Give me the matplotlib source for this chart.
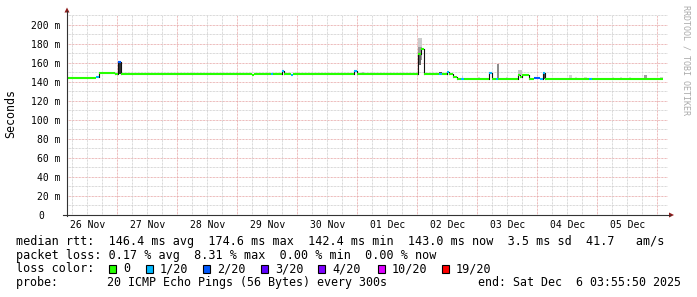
import datetime as dt
import matplotlib
matplotlib.use('Agg')
import matplotlib.pyplot as plt
import matplotlib.dates as mdates
import matplotlib.transforms as mtransforms
from matplotlib.patches import Rectangle, Polygon

MONO = 'DejaVu Sans Mono'

# graph window: 10 days, ending Sat Dec 6 03:55:50 2025
t_end = dt.datetime(2025, 12, 6, 3, 55, 50)
t_start = t_end - dt.timedelta(days=10)

# median rtt as steps: start (hours after t_start), value (ms), lost pings of 20
seg_hours = [0.0, 11.7, 12.6, 19.3, 20.4, 21.7, 74.0, 74.8, 81.6, 82.4,
             85.8, 86.8, 89.6, 90.4, 114.6, 115.8, 140.4, 141.6, 142.6, 148.8,
             150.0, 151.8, 152.8, 154.4, 155.8, 156.6, 157.6, 158.6, 168.6, 169.8,
             171.6, 172.4, 180.4, 181.2, 182.0, 184.8, 186.6, 189.0, 190.2, 191.2,
             208.8, 209.8]
seg_ms = [143.5, 144.5, 149.0, 147.8, 161.0, 147.6, 146.8, 147.6, 147.6, 147.6,
          151.0, 147.6, 147.0, 147.6, 151.0, 147.6, 168.6, 174.6, 147.6, 147.6,
          147.6, 150.4, 147.6, 144.8, 142.4, 143.3, 143.0, 143.3, 149.6, 143.3,
          143.3, 143.3, 146.6, 144.6, 146.6, 143.3, 143.6, 143.3, 149.6, 143.3,
          143.3, 143.3]
seg_loss = [0, 1, 0, 0, 2, 0, 0, 0, 1, 0,
            1, 0, 1, 0, 1, 0, 0, 0, 0, 1,
            0, 1, 0, 0, 0, 0, 1, 0, 1, 0,
            1, 0, 0, 0, 0, 0, 2, 1, 1, 0,
            1, 0]
last_hour = 238.4

# smoke (spread of the 20 pings)
smoke_hours = [20.4, 92.4, 118.0, 140.5, 140.5, 140.5, 148.8, 157.9, 164.4, 172.0,
               175.6, 180.4, 190.4, 200.8, 203.2, 206.8, 217.9, 221.2, 224.8, 230.9,
               237.2]
smoke_len = [1.3, 0.6, 0.8, 1.6, 1.6, 1.0, 1.1, 0.6, 0.6, 0.9,
             0.6, 1.6, 0.8, 1.0, 0.6, 1.2, 0.8, 0.8, 0.8, 1.0,
             1.0]
smoke_lo = [147.6, 147.6, 147.6, 170.0, 163.0, 158.0, 147.6, 143.3, 143.3, 143.3,
            143.3, 146.6, 143.3, 143.3, 143.3, 143.3, 143.3, 143.3, 143.3, 143.3,
            143.3]
smoke_hi = [160.0, 148.8, 149.8, 185.5, 176.0, 168.0, 150.5, 145.6, 144.8, 158.7,
            144.6, 151.8, 149.6, 147.5, 144.6, 145.0, 144.5, 144.5, 144.5, 147.0,
            145.0]
smoke_density = [0.8, 0.2, 0.25, 0.2, 0.4, 0.6, 0.7, 0.2, 0.15, 0.45,
                 0.15, 0.22, 0.7, 0.18, 0.12, 0.15, 0.12, 0.12, 0.12, 0.38,
                 0.18]

day_labels = ['26 Nov', '27 Nov', '28 Nov', '29 Nov', '30 Nov',
              '01 Dec', '02 Dec', '03 Dec', '04 Dec', '05 Dec']
y_ticks = [0, 20, 40, 60, 80, 100, 120, 140, 160, 180, 200]
y_labels = ['0', '20 m', '40 m', '60 m', '80 m', '100 m', '120 m',
            '140 m', '160 m', '180 m', '200 m']

rtt_avg, rtt_max, rtt_min, rtt_now, rtt_sd, rtt_ams = 146.4, 174.6, 142.4, 143.0, 3.5, 41.7
loss_avg, loss_max, loss_min, loss_now = 0.17, 8.31, 0.00, 0.00

loss_steps = [0, 1, 2, 3, 4, 10, 19]
loss_labels = ['0', '1/20', '2/20', '3/20', '4/20', '10/20', '19/20']
loss_colors = ['#26ff00', '#00b8ff', '#0059ff', '#5e00ff', '#7e00ff', '#dd00ff', '#ff0000']


def loss_color(n):
    c = loss_colors[0]
    for step, col in zip(loss_steps, loss_colors):
        if n >= step:
            c = col
    return c


def tnum(h):
    return mdates.date2num(t_start) + h / 24.0


fig = plt.figure(figsize=(6.97, 2.97), dpi=100, facecolor='white')
ax = fig.add_axes([67 / 697, 82 / 297, 600 / 697, 200 / 297])
ax.set_xlim(tnum(0), tnum(240))
ax.set_ylim(0, 210)
for s in ax.spines.values():
    s.set_visible(False)

# grid
dots = (0, (0.72, 0.72))
for v in range(10, 211, 10):
    col = '#e6a3a3' if v % 20 == 0 else '#cccccc'
    ax.axhline(v, color=col, lw=0.72, ls=dots, zorder=0, clip_on=False)
t = dt.datetime(2025, 11, 26, 6)
while t < t_end:
    col = '#e6a3a3' if t.hour == 0 else '#cccccc'
    ax.axvline(mdates.date2num(t), color=col, lw=0.72, ls=dots, zorder=0)
    t += dt.timedelta(hours=6)

# smoke
for h, w, lo, hi, d in zip(smoke_hours, smoke_len, smoke_lo, smoke_hi, smoke_density):
    ax.bar(tnum(h), hi - lo, width=w / 24.0, bottom=lo, align='edge',
           color=str(round(1 - d, 3)), lw=0, zorder=2)

# median line, coloured by loss
ends = seg_hours[1:] + [last_hour]
for i, (h0, h1, ms, n) in enumerate(zip(seg_hours, ends, seg_ms, seg_loss)):
    ax.plot([tnum(h0), tnum(h1)], [ms, ms], color=loss_color(n), lw=1.5,
            solid_capstyle='butt', zorder=4)
    if i > 0 and abs(ms - seg_ms[i - 1]) > 1.0:
        ax.plot([tnum(h0), tnum(h0)], [seg_ms[i - 1], ms], color='#111111',
                lw=0.8, zorder=3)

# ticks
day_noons = [dt.datetime(2025, 11, 26, 12) + dt.timedelta(days=k) for k in range(len(day_labels))]
ax.set_xticks([mdates.date2num(d) for d in day_noons])
ax.set_xticklabels(day_labels, fontfamily=MONO, fontsize=7)
ax.set_yticks(y_ticks)
ax.set_yticklabels(y_labels, fontfamily=MONO, fontsize=7)
ax.tick_params(axis='both', length=0)
ax.tick_params(axis='x', pad=3.5)
ax.tick_params(axis='y', pad=5)
# the bare "0" sits further left, under the digits of the other labels
zero_lab = ax.get_yticklabels()[0]
zero_lab.set_transform(zero_lab.get_transform() +
                       mtransforms.ScaledTranslation(-16 / 100, 0, fig.dpi_scale_trans))

# overlay in pixel coordinates for axes arrows and legend
ov = fig.add_axes([0, 0, 1, 1], zorder=5)
ov.set_xlim(0, 697)
ov.set_ylim(297, 0)
ov.axis('off')

arrow_col = '#8e1b1b'
ov.plot([67, 67], [216, 11], color='#333333', lw=0.8)
ov.plot([62.5, 670], [215, 215], color='#333333', lw=0.8)
ov.add_patch(Polygon([(64.5, 12.5), (69.5, 12.5), (67, 7.5)], color=arrow_col, lw=0))
ov.add_patch(Polygon([(669, 212.5), (669, 217.5), (674, 215)], color=arrow_col, lw=0))

ov.text(11, 114, 'Seconds', rotation=90, ha='center', va='center',
        fontfamily=MONO, fontsize=8.4)
ov.text(686, 5, 'RRDTOOL / TOBI OETIKER', rotation=270, ha='center', va='top',
        fontfamily=MONO, fontsize=6, color='#aaaaaa')

fs = 8.5
line1 = (f"median rtt:  {rtt_avg:.1f} ms avg  {rtt_max:.1f} ms max  {rtt_min:.1f} ms min  "
         f"{rtt_now:.1f} ms now  {rtt_sd:.1f} ms sd  {rtt_ams:.1f}   am/s")
line2 = (f"packet loss: {loss_avg:.2f} % avg  {loss_max:.2f} % max  "
         f"{loss_min:.2f} % min  {loss_now:.2f} % now")
ov.text(16, 245, line1, fontfamily=MONO, fontsize=fs, va='baseline')
ov.text(16, 258.7, line2, fontfamily=MONO, fontsize=fs, va='baseline')
ov.text(16, 272.4, 'loss color:', fontfamily=MONO, fontsize=fs, va='baseline')
ov.text(16, 286, 'probe:       20 ICMP Echo Pings (56 Bytes) every 300s',
        fontfamily=MONO, fontsize=8.4, va='baseline')
ov.text(478, 286, 'end: Sat Dec  6 03:55:50 2025', fontfamily=MONO, fontsize=8.4,
        va='baseline')

box_x = [109, 146, 203, 261, 318, 378, 442]
for bx, lab, col in zip(box_x, loss_labels, loss_colors):
    ov.add_patch(Rectangle((bx, 265), 7, 8, facecolor=col, edgecolor='black', lw=0.8))
    ov.text(bx + 14, 272.4, lab, fontfamily=MONO, fontsize=fs, va='baseline')

fig.savefig('out.png', dpi=100, facecolor='white')
